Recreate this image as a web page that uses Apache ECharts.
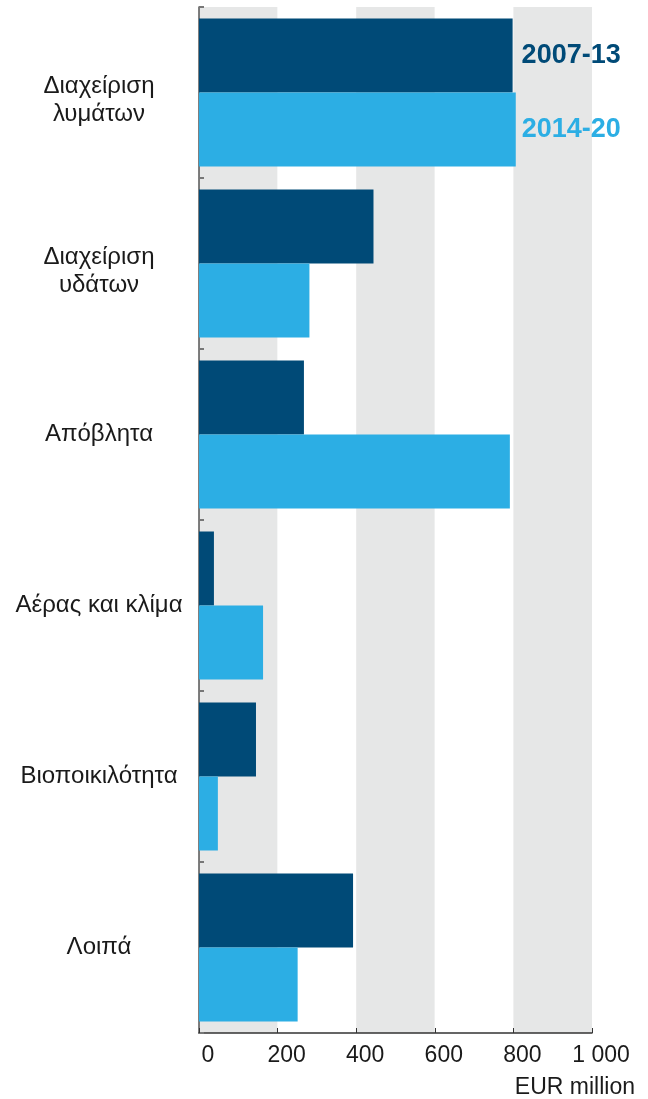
<!DOCTYPE html>
<html>
<head>
<meta charset="utf-8">
<script src="https://cdn.jsdelivr.net/npm/echarts@6/dist/echarts.min.js"></script>
<style>
html,body{margin:0;padding:0;background:#fff;}
#main{width:648px;height:1099px;}
</style>
</head>
<body>
<div id="main"></div>
<script>
// κατηγορίες
var categories = ['Διαχείριση\nλυμάτων', 'Διαχείριση\nυδάτων', 'Απόβλητα', 'Αέρας και κλίμα', 'Βιοποικιλότητα', 'Λοιπά'];
var seriesNames = ['2007-13', '2014-20'];
var values0713 = [798, 444, 267, 38, 145, 392];
var values1420 = [806, 281, 791, 163, 48, 251];
var xTicks = [0, 200, 400, 600, 800, 1000];

var colors = ['#004a77', '#2caee4'];
var font = 'Liberation Sans, Arial, sans-serif';

function makeData(vals, idx){
	var arr = new Array();
	for(var i = 0; i < vals.length; i++){
		if(i == 0){
			// ετικέτα σειράς δίπλα στην πρώτη μπάρα
			arr.push({
				value: vals[i],
				label: {
					show: true,
					position: 'right',
					distance: idx == 0 ? 9 : 6,
					formatter: seriesNames[idx],
					color: colors[idx],
					fontWeight: 'bold',
					fontSize: 27,
					fontFamily: font
				}
			});
		}else{
			arr.push(vals[i]);
		}
	}
	return arr;
}

// οι ετικέτες δύο γραμμών είναι λίγο πιο χαμηλά
function catLabel(v){
	var lines = v.split('\n');
	var out = new Array();
	for(var i = 0; i < lines.length; i++){
		out.push('{a|' + lines[i] + '}');
	}
	if(lines.length > 1){
		return '{s| }\n' + out.join('\n');
	}
	return out.join('\n');
}

var myChart = echarts.init(document.getElementById('main'));
var option = {
	animation: false,
	grid: {left: 199, right: 56, top: 7, bottom: 66},
	xAxis: {
		type: 'value',
		min: xTicks[0],
		max: xTicks[xTicks.length - 1],
		interval: 200,
		axisLine: {show: true, lineStyle: {color: '#333', width: 1.5}},
		axisTick: {show: true, inside: true, length: 5, lineStyle: {color: '#333'}},
		axisLabel: {
			color: '#1a1a1a',
			fontSize: 23,
			fontFamily: font,
			margin: 11,
			padding: [0, 0, 0, 18],
			formatter: function(v){
				return v >= 1000 ? '1 000' : String(v);
			}
		},
		splitLine: {show: false},
		splitArea: {show: true, areaStyle: {color: ['#e6e7e7', '#ffffff']}},
		name: 'EUR million',
		nameLocation: 'end',
		nameGap: 0,
		nameTextStyle: {
			color: '#1a1a1a',
			fontSize: 23,
			fontFamily: font,
			align: 'right',
			verticalAlign: 'top',
			padding: [43, -43, 0, 0]
		}
	},
	yAxis: {
		type: 'category',
		data: categories,
		inverse: true,
		axisLine: {show: true, lineStyle: {color: '#555', width: 1.5}},
		axisTick: {show: true, inside: true, length: 5, lineStyle: {color: '#777', width: 2}},
		axisLabel: {
			color: '#1a1a1a',
			fontFamily: font,
			align: 'center',
			margin: 100,
			formatter: catLabel,
			rich: {
				a: {fontSize: 24, lineHeight: 28, fontFamily: font, color: '#1a1a1a'},
				s: {fontSize: 10, lineHeight: 16}
			}
		},
		splitLine: {show: false}
	},
	series: [
		{
			name: seriesNames[0],
			type: 'bar',
			data: makeData(values0713, 0),
			itemStyle: {color: colors[0]},
			barGap: '0%',
			barCategoryGap: '13.5%'
		},
		{
			name: seriesNames[1],
			type: 'bar',
			data: makeData(values1420, 1),
			itemStyle: {color: colors[1]},
			barGap: '0%',
			barCategoryGap: '13.5%'
		}
	]
};
myChart.setOption(option);
</script>
</body>
</html>
